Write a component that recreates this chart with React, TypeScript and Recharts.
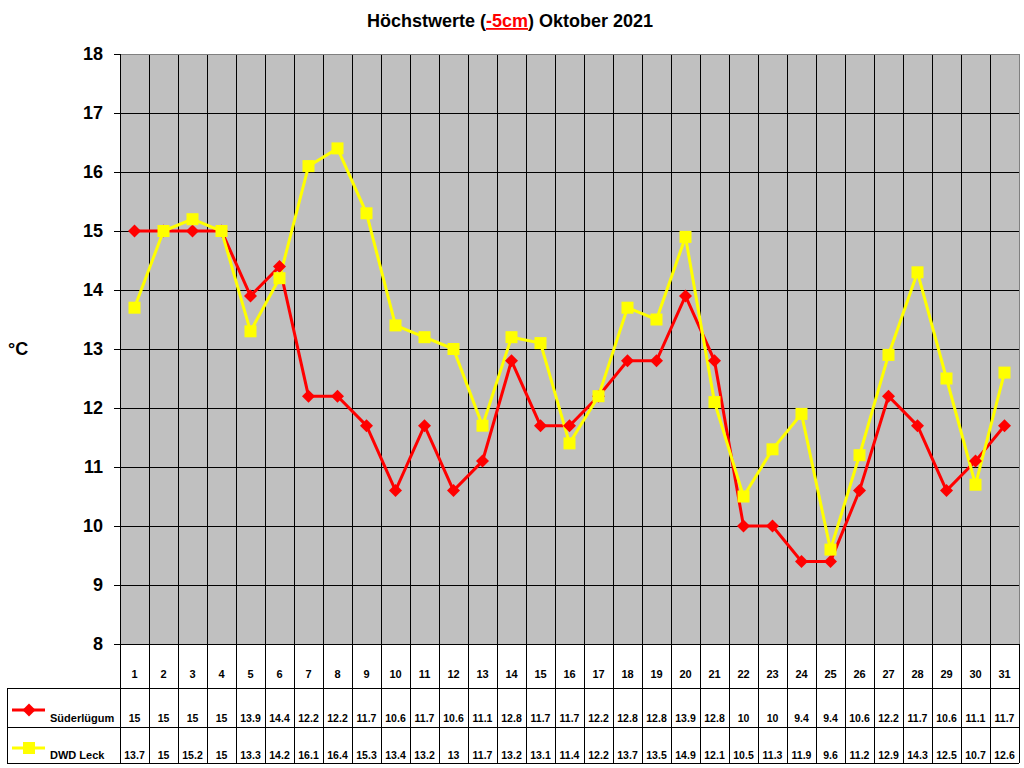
import React from "react";
import {
  LineChart,
  Line,
  XAxis,
  YAxis,
  CartesianGrid,
  ReferenceLine,
} from "recharts";

const days = [
  1, 2, 3, 4, 5, 6, 7, 8, 9, 10, 11, 12, 13, 14, 15, 16, 17, 18, 19, 20, 21,
  22, 23, 24, 25, 26, 27, 28, 29, 30, 31,
];

const suederluegum = [
  15, 15, 15, 15, 13.9, 14.4, 12.2, 12.2, 11.7, 10.6, 11.7, 10.6, 11.1, 12.8,
  11.7, 11.7, 12.2, 12.8, 12.8, 13.9, 12.8, 10, 10, 9.4, 9.4, 10.6, 12.2, 11.7,
  10.6, 11.1, 11.7,
];

const dwdLeck = [
  13.7, 15, 15.2, 15, 13.3, 14.2, 16.1, 16.4, 15.3, 13.4, 13.2, 13, 11.7, 13.2,
  13.1, 11.4, 12.2, 13.7, 13.5, 14.9, 12.1, 10.5, 11.3, 11.9, 9.6, 11.2, 12.9,
  14.3, 12.5, 10.7, 12.6,
];

const yTicks = [8, 9, 10, 11, 12, 13, 14, 15, 16, 17, 18];

// column boundaries: the grid lines sit between the days
const boundaries = [...days.map((d) => d - 0.5), days[days.length - 1] + 0.5];

const data = days.map((day, i) => ({
  day,
  sued: suederluegum[i],
  leck: dwdLeck[i],
}));

const FONT = "Arial, 'Liberation Sans', sans-serif";
const RED = "#FF0000";
const YELLOW = "#FFFF00";

const CHART_W = 1024;
const CHART_H = 768;
const LEFT = 120;
const RIGHT = 5;
const colW = (CHART_W - LEFT - RIGHT) / days.length;

function Diamond(props: any) {
  const { cx, cy, index } = props;
  if (cx == null || cy == null) return null;
  const r = 6.5;
  return (
    <polygon
      key={`dia-${index}`}
      points={`${cx},${cy - r} ${cx + r},${cy} ${cx},${cy + r} ${cx - r},${cy}`}
      fill={RED}
    />
  );
}

function Square(props: any) {
  const { cx, cy, index } = props;
  if (cx == null || cy == null) return null;
  return (
    <rect key={`sq-${index}`} x={cx - 6} y={cy - 6} width={12} height={12} fill={YELLOW} />
  );
}

function TableTick(props: any) {
  const { x, y, payload, index } = props;
  const v = payload.value as number;
  const r1 = y + 44;
  const r2 = y + 83;
  const r3 = y + 119;
  const last = v >= days[days.length - 1];
  if (last) {
    return <line x1={x} x2={x} y1={y} y2={r3} stroke="#000" shapeRendering="crispEdges" />;
  }
  const i = days.indexOf(v + 0.5);
  const cx = x + colW / 2;
  const txt = { fontFamily: FONT, fontWeight: 700, fill: "#000", textAnchor: "middle" as const };
  return (
    <g shapeRendering="crispEdges">
      <line x1={x} x2={x} y1={y} y2={r3} stroke="#000" />
      <line x1={x} x2={x + colW} y1={r1} y2={r1} stroke="#000" />
      <line x1={x} x2={x + colW} y1={r2} y2={r2} stroke="#000" />
      <line x1={x} x2={x + colW} y1={r3} y2={r3} stroke="#000" />
      <text x={cx} y={y + 34} fontSize={11} {...txt}>
        {days[i]}
      </text>
      <text x={cx} y={y + 78} fontSize={10.5} {...txt}>
        {suederluegum[i]}
      </text>
      <text x={cx} y={y + 115} fontSize={10.5} {...txt}>
        {dwdLeck[i]}
      </text>
      {index === 0 && (
        <g>
          <line x1={7} x2={x} y1={r1} y2={r1} stroke="#000" />
          <line x1={7} x2={x} y1={r2} y2={r2} stroke="#000" />
          <line x1={7} x2={x} y1={r3} y2={r3} stroke="#000" />
          <line x1={7} x2={7} y1={r1} y2={r3} stroke="#000" />
          <g shapeRendering="auto">
            <line x1={12} x2={45} y1={y + 66} y2={y + 66} stroke={RED} strokeWidth={3} />
            <Diamond cx={29} cy={y + 66} index="leg" />
            <line x1={12} x2={45} y1={y + 104} y2={y + 104} stroke={YELLOW} strokeWidth={3} />
            <Square cx={29} cy={y + 104} index="leg" />
          </g>
          <text x={50} y={y + 78} fontSize={11} fontFamily={FONT} fontWeight={700} fill="#000">
            Süderlügum
          </text>
          <text x={50} y={y + 115} fontSize={11} fontFamily={FONT} fontWeight={700} fill="#000">
            DWD Leck
          </text>
        </g>
      )}
    </g>
  );
}

export default function App() {
  return (
    <div
      style={{
        position: "absolute",
        left: 0,
        top: 0,
        width: CHART_W,
        height: CHART_H,
        background: "#fff",
      }}
    >
      <LineChart
        width={CHART_W}
        height={CHART_H}
        data={data}
        margin={{ top: 54, right: RIGHT, bottom: 0, left: 0 }}
      >
        <CartesianGrid
          stroke="#000"
          fill="#C0C0C0"
          fillOpacity={1}
          shapeRendering="crispEdges"
        />
        <XAxis
          dataKey="day"
          type="number"
          domain={[0.5, 31.5]}
          ticks={boundaries}
          interval={0}
          height={124}
          tickLine={false}
          tickSize={0}
          tickMargin={0}
          axisLine={{ stroke: "#000", shapeRendering: "crispEdges" }}
          tick={<TableTick />}
        />
        <YAxis
          width={LEFT}
          domain={[8, 18]}
          ticks={yTicks}
          interval={0}
          tickSize={6}
          tickMargin={11}
          axisLine={{ stroke: "#000", shapeRendering: "crispEdges" }}
          tickLine={{ stroke: "#000", shapeRendering: "crispEdges" }}
          tick={{ fontSize: 18, fontWeight: 700, fill: "#000", fontFamily: FONT }}
        />
        <ReferenceLine y={18} stroke="#808080" shapeRendering="crispEdges" />
        <ReferenceLine x={31.5} stroke="#808080" shapeRendering="crispEdges" />
        <Line
          dataKey="sued"
          stroke={RED}
          strokeWidth={3}
          dot={Diamond}
          activeDot={false}
          isAnimationActive={false}
        />
        <Line
          dataKey="leck"
          stroke={YELLOW}
          strokeWidth={3}
          dot={Square}
          activeDot={false}
          isAnimationActive={false}
        />
      </LineChart>
      <svg
        width={CHART_W}
        height={60}
        style={{ position: "absolute", left: 0, top: 0, pointerEvents: "none" }}
      >
        <text x={510} y={27} textAnchor="middle" fontFamily={FONT} fontWeight={700} fontSize={18} fill="#000">
          Höchstwerte (
          <tspan fill={RED} textDecoration="underline">
            -5cm
          </tspan>
          ) Oktober 2021
        </text>
      </svg>
      <div
        style={{
          position: "absolute",
          left: 8,
          top: 339,
          fontFamily: FONT,
          fontWeight: 700,
          fontSize: 18,
          lineHeight: "20px",
        }}
      >
        °C
      </div>
    </div>
  );
}
